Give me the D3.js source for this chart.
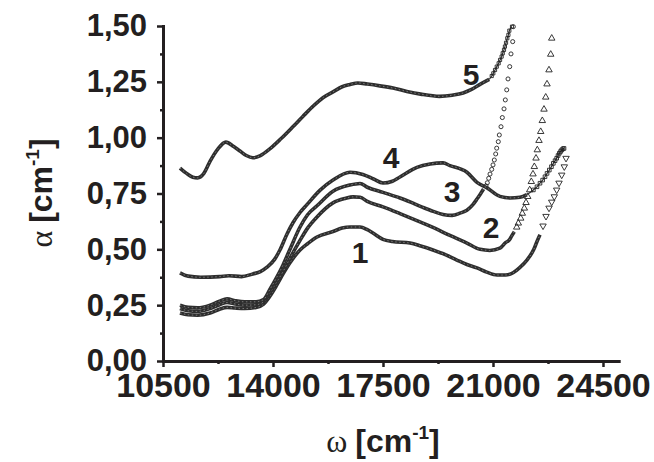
<!DOCTYPE html>
<html>
<head>
<meta charset="utf-8">
<script src="https://cdn.jsdelivr.net/npm/d3@7"></script>
<style>
  body { margin: 0; background: #fff; }
  svg text { font-family: "Liberation Sans", Arial, sans-serif; font-weight: bold; fill: #231f20; }
</style>
</head>
<body>
<div id="chart"></div>
<script>
// axis ticks
const xTicks = [10500, 14000, 17500, 21000, 24500];
const xMinor = [12250, 15750, 19250, 22750];
const yTicks = [0, 0.25, 0.5, 0.75, 1.0, 1.25, 1.5];
const yMinor = [0.125, 0.375, 0.625, 0.875, 1.125, 1.375];

// curve 1 (dense part drawn as a line, steep end as markers)
const c1Line = [[11040,0.215],[11300,0.207],[11600,0.205],[12000,0.215],[12300,0.232],[12540,0.24],[12800,0.237],[13100,0.235],[13460,0.24],[13700,0.255],[13900,0.29],[14100,0.335],[14320,0.39],[14540,0.44],[14860,0.497],[15100,0.525],[15400,0.555],[15910,0.58],[16200,0.595],[16450,0.60],[16770,0.60],[17000,0.588],[17180,0.573],[17500,0.545],[17800,0.535],[18360,0.528],[18700,0.515],[19090,0.497],[19500,0.475],[19850,0.452],[20170,0.432],[20490,0.417],[20800,0.398],[21130,0.385],[21400,0.385],[21640,0.395],[21850,0.418],[22080,0.452],[22300,0.50],[22400,0.535],[22496,0.565]];
const c1Pts = [[22592,0.605],[22687,0.648],[22783,0.685],[22869,0.712],[22951,0.736],[23027,0.766],[23101,0.797],[23187,0.833],[23269,0.870],[23324,0.908]];

// curve 2
const c2Line = [[11040,0.235],[11300,0.225],[11600,0.222],[12000,0.235],[12300,0.252],[12540,0.262],[12800,0.255],[13100,0.25],[13460,0.252],[13700,0.265],[13900,0.305],[14100,0.35],[14320,0.40],[14540,0.46],[14860,0.54],[15100,0.595],[15400,0.645],[15910,0.708],[16300,0.728],[16550,0.735],[16770,0.733],[17000,0.715],[17500,0.69],[18040,0.66],[18560,0.63],[19090,0.598],[19630,0.562],[20170,0.528],[20590,0.50],[20900,0.495],[21220,0.505],[21400,0.53],[21520,0.542],[21596,0.560],[21679,0.579]];
const c2Pts = [[21755,0.599],[21806,0.617],[21882,0.639],[21933,0.661],[21997,0.684],[22051,0.709],[22105,0.736],[22168,0.766],[22219,0.803],[22273,0.837],[22315,0.870],[22369,0.908],[22410,0.945],[22464,0.987],[22518,1.027],[22569,1.076],[22623,1.127],[22678,1.181],[22719,1.240],[22782,1.303],[22837,1.373],[22869,1.445]];

// curve 3
const c3Line = [[11040,0.25],[11300,0.24],[11600,0.238],[12000,0.25],[12300,0.268],[12540,0.278],[12800,0.27],[13100,0.265],[13460,0.265],[13700,0.275],[13900,0.32],[14100,0.37],[14320,0.43],[14540,0.50],[14860,0.60],[15100,0.655],[15400,0.695],[15910,0.76],[16450,0.788],[16770,0.795],[17000,0.778],[17500,0.755],[18040,0.73],[18400,0.71],[18770,0.688],[19100,0.67],[19410,0.656],[19700,0.652],[19950,0.662],[20170,0.675],[20360,0.70],[20490,0.725],[20600,0.748],[20700,0.77]];
const c3Pts = [[20778,0.784],[20819,0.798],[20864,0.818],[20905,0.837],[20959,0.858],[21001,0.878],[21042,0.900],[21086,0.927],[21118,0.953],[21169,0.982],[21201,1.012],[21255,1.049],[21297,1.090],[21351,1.129],[21392,1.169],[21437,1.214],[21478,1.263],[21532,1.318],[21573,1.375],[21627,1.430],[21647,1.497]];

// curve 4
const c4Line = [[11040,0.395],[11300,0.38],[11700,0.375],[12300,0.378],[12600,0.382],[13000,0.378],[13360,0.39],[13600,0.40],[13810,0.42],[14050,0.455],[14220,0.497],[14450,0.57],[14640,0.62],[14860,0.665],[15080,0.70],[15500,0.765],[15910,0.81],[16450,0.845],[16860,0.835],[17200,0.815],[17500,0.797],[17800,0.805],[18040,0.824],[18580,0.867],[19000,0.882],[19410,0.887],[19630,0.875],[20170,0.845],[20490,0.80],[20810,0.775],[21220,0.737],[21540,0.730],[21860,0.733],[22080,0.745]];
const c4Pts = [[22285,0.766],[22400,0.78],[22496,0.796],[22580,0.81],[22655,0.825],[22720,0.84],[22792,0.855],[22860,0.87],[22920,0.885],[22975,0.897],[23027,0.908],[23070,0.92],[23110,0.930],[23150,0.938],[23187,0.945],[23225,0.95],[23260,0.952]];

// curve 5
const c5Line = [[11040,0.864],[11250,0.84],[11450,0.823],[11600,0.82],[11800,0.84],[12000,0.895],[12250,0.95],[12500,0.98],[12750,0.96],[12950,0.94],[13150,0.92],[13360,0.91],[13600,0.92],[13900,0.95],[14250,0.995],[14640,1.05],[14950,1.095],[15270,1.14],[15600,1.18],[15910,1.205],[16200,1.228],[16450,1.238],[16700,1.245],[17000,1.24],[17400,1.232],[17820,1.222],[18260,1.207],[18700,1.195],[19300,1.185],[19700,1.19],[20050,1.20],[20300,1.215],[20600,1.24],[20880,1.261]];
const c5Pts = [[20960,1.276],[21010,1.288],[21065,1.303],[21120,1.318],[21180,1.333],[21225,1.348],[21275,1.363],[21310,1.378],[21350,1.393],[21380,1.408],[21415,1.425],[21455,1.445],[21490,1.46],[21520,1.479],[21605,1.497]];

// curve number labels, anchored in data units
const labelText = ["1", "2", "3", "4", "5"];
const labelPos = [[16768,0.439],[20936,0.551],[19695,0.712],[17754,0.864],[20300,1.236]];

const width = 654, height = 462;

const svg = d3.select("#chart").append("svg")
    .attr("width", width)
    .attr("height", height)
    .style("background", "#fff");

const x = d3.scaleLinear().domain([10500, 25000]).range([163, 618.7]);
const y = d3.scaleLinear().domain([0, 1.5]).range([361, 26]);

const series = [
    {line: c1Line, pts: c1Pts, sym: d3.symbolTriangle, rot: 180, size: 18, join: false},
    {line: c2Line, pts: c2Pts, sym: d3.symbolTriangle, rot: 0, size: 18, join: false},
    {line: c3Line, pts: c3Pts, sym: d3.symbolCircle, rot: 0, size: 13, join: false},
    {line: c4Line, pts: c4Pts, sym: d3.symbolSquare, rot: 0, size: 13, join: true},
    {line: c5Line, pts: c5Pts, sym: d3.symbolSquare, rot: 0, size: 10, join: true}
];

const line = d3.line()
    .x(d => x(d[0]))
    .y(d => y(d[1]))
    .curve(d3.curveMonotoneX);

const plot = svg.append("g");

series.forEach(s => {
    // thick body, looks like overlapping open markers
    plot.append("path")
        .attr("d", line(s.line))
        .attr("fill", "none")
        .attr("stroke", "#2e2e2e")
        .attr("stroke-width", 3.6)
        .attr("stroke-linejoin", "round");
    plot.append("path")
        .attr("d", line(s.line))
        .attr("fill", "none")
        .attr("stroke", "#9a9a9a")
        .attr("stroke-width", 0.7)
        .attr("stroke-dasharray", "1.5,2.5");
    if (s.join) {
        plot.append("path")
            .attr("d", line([s.line[s.line.length - 1]].concat(s.pts)))
            .attr("fill", "none")
            .attr("stroke", "#333")
            .attr("stroke-width", 1.2);
    }
    plot.selectAll(null)
        .data(s.pts)
        .enter().append("path")
        .attr("d", d3.symbol().type(s.sym).size(s.size))
        .attr("transform", d => `translate(${x(d[0])},${y(d[1])}) rotate(${s.rot})`)
        .attr("fill", "none")
        .attr("stroke", "#222")
        .attr("stroke-width", 0.9);
});

// curve numbers
svg.append("g").selectAll("text")
    .data(labelText)
    .enter().append("text")
    .attr("x", (d, i) => x(labelPos[i][0]))
    .attr("y", (d, i) => y(labelPos[i][1]))
    .attr("text-anchor", "middle")
    .style("font-size", "30px")
    .text(d => d);

// axes
const fmt = d => d.toFixed(2).replace(".", ",");

const yAxis = svg.append("g")
    .attr("transform", `translate(${x(10500)},0)`)
    .call(d3.axisLeft(y).tickValues(yTicks).tickFormat(fmt).tickSize(6).tickSizeOuter(0).tickPadding(10));
svg.append("g")
    .attr("transform", `translate(${x(10500)},0)`)
    .call(d3.axisLeft(y).tickValues(yMinor).tickFormat("").tickSize(3).tickSizeOuter(0))
    .select(".domain").remove();

const xAxis = svg.append("g")
    .attr("transform", `translate(0,${y(0)})`)
    .call(d3.axisBottom(x).tickValues(xTicks).tickFormat(d3.format("d")).tickSize(6).tickSizeOuter(0).tickPadding(6));
svg.append("g")
    .attr("transform", `translate(0,${y(0)})`)
    .call(d3.axisBottom(x).tickValues(xMinor).tickFormat("").tickSize(3).tickSizeOuter(0))
    .select(".domain").remove();

svg.selectAll(".domain").attr("stroke", "#231f20").attr("stroke-width", 3).attr("stroke-linecap", "square");
svg.selectAll(".tick line").attr("stroke", "#231f20").attr("stroke-width", 2.5);
yAxis.selectAll("text").style("font-size", "31px").attr("fill", "#231f20");
xAxis.selectAll("text").style("font-size", "34px").attr("fill", "#231f20");

// axis titles
const xTitle = svg.append("text")
    .attr("x", 383)
    .attr("y", 452)
    .attr("text-anchor", "middle")
    .style("font-size", "32px");
xTitle.append("tspan").style("font-family", "'Liberation Serif', serif").style("font-weight", "normal").text("ω ");
xTitle.append("tspan").text("[cm");
xTitle.append("tspan").attr("dy", -13).style("font-size", "19px").text("-1");
xTitle.append("tspan").attr("dy", 13).text("]");

const yTitle = svg.append("text")
    .attr("transform", "translate(52,193) rotate(-90)")
    .attr("text-anchor", "middle")
    .style("font-size", "32px");
yTitle.append("tspan").style("font-family", "'Liberation Serif', serif").style("font-weight", "normal").text("α ");
yTitle.append("tspan").text("[cm");
yTitle.append("tspan").attr("dy", -13).style("font-size", "19px").text("-1");
yTitle.append("tspan").attr("dy", 13).text("]");
</script>
</body>
</html>
